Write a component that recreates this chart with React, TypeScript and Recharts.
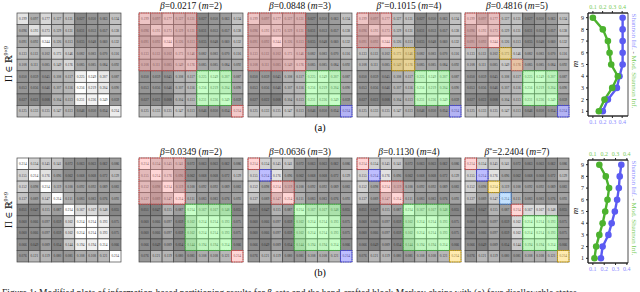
import React from 'react'
import { ScatterChart, Scatter, XAxis, YAxis, ReferenceArea, LineChart, Line } from 'recharts'

const SERIF = '"Liberation Serif", "DejaVu Serif", serif'

// transition matrices (rows x cols)
const PI_A = [
  [0.199, 0.097, 0.177, 0.127, 0.131, 0.027, 0.050, 0.063, 0.134],
  [0.096, 0.193, 0.173, 0.129, 0.131, 0.031, 0.053, 0.057, 0.138],
  [0.091, 0.092, 0.244, 0.126, 0.113, 0.035, 0.048, 0.060, 0.132],
  [0.133, 0.113, 0.102, 0.173, 0.146, 0.082, 0.083, 0.070, 0.116],
  [0.108, 0.111, 0.085, 0.149, 0.176, 0.085, 0.085, 0.084, 0.092],
  [0.050, 0.059, 0.045, 0.108, 0.117, 0.225, 0.249, 0.207, 0.087],
  [0.053, 0.056, 0.046, 0.107, 0.116, 0.256, 0.219, 0.204, 0.090],
  [0.027, 0.022, 0.008, 0.104, 0.113, 0.231, 0.226, 0.249, 0.059],
  [0.125, 0.133, 0.135, 0.147, 0.113, 0.046, 0.050, 0.054, 0.214],
]
const PI_B = [
  [0.214, 0.154, 0.145, 0.141, 0.072, 0.063, 0.063, 0.062, 0.086],
  [0.155, 0.214, 0.176, 0.096, 0.062, 0.068, 0.068, 0.072, 0.129],
  [0.152, 0.098, 0.214, 0.119, 0.100, 0.092, 0.092, 0.089, 0.083],
  [0.137, 0.089, 0.147, 0.214, 0.111, 0.083, 0.083, 0.076, 0.093],
  [0.051, 0.047, 0.115, 0.087, 0.214, 0.167, 0.167, 0.148, 0.055],
  [0.060, 0.066, 0.097, 0.059, 0.162, 0.214, 0.214, 0.193, 0.075],
  [0.060, 0.066, 0.097, 0.059, 0.162, 0.214, 0.214, 0.193, 0.075],
  [0.066, 0.049, 0.089, 0.054, 0.144, 0.194, 0.194, 0.214, 0.066],
  [0.076, 0.121, 0.119, 0.080, 0.081, 0.108, 0.108, 0.121, 0.214],
]

const BETAS_A = ['0.0217', '0.0848', '0.1015', '0.4816']
const M_A = [2, 3, 4, 5]
const STAR_A = [false, false, true, false]
const BETAS_B = ['0.0349', '0.0636', '0.1130', '2.2404']
const M_B = [2, 3, 4, 7]
const STAR_B = [false, false, false, true]

// partition blocks: [row0, col0, row1, col1, colour]
type Block = [number, number, number, number, string]
const BLOCKS_A: Block[][] = [
  [[0, 0, 4, 4, 'red'], [5, 5, 7, 7, 'green'], [8, 8, 8, 8, 'red']],
  [[0, 0, 4, 4, 'red'], [5, 5, 7, 7, 'green'], [8, 8, 8, 8, 'blue']],
  [[0, 0, 2, 2, 'red'], [3, 3, 4, 4, 'yellow'], [5, 5, 7, 7, 'green'], [8, 8, 8, 8, 'blue']],
  [[0, 0, 2, 2, 'red'], [3, 3, 3, 3, 'yellow'], [4, 4, 4, 4, 'orange'], [5, 5, 7, 7, 'green'], [8, 8, 8, 8, 'blue']],
]
const BLOCKS_B: Block[][] = [
  [[0, 0, 3, 3, 'red'], [4, 4, 7, 7, 'green'], [8, 8, 8, 8, 'red']],
  [[0, 0, 0, 0, 'red'], [1, 1, 1, 1, 'blue'], [2, 2, 3, 3, 'red'], [4, 4, 7, 7, 'green'], [8, 8, 8, 8, 'blue']],
  [[0, 0, 0, 0, 'red'], [1, 1, 1, 1, 'blue'], [2, 2, 3, 3, 'red'], [4, 4, 7, 7, 'green'], [8, 8, 8, 8, 'yellow']],
  [[0, 0, 0, 0, 'red'], [1, 1, 1, 1, 'blue'], [2, 2, 2, 2, 'yellow'], [3, 3, 3, 3, 'lightblue'], [4, 4, 4, 4, 'red'], [5, 5, 7, 7, 'green'], [8, 8, 8, 8, 'yellow']],
]

const M_VALUES = [1, 2, 3, 4, 5, 6, 7, 8, 9]
const SHANNON_A = [0.202, 0.254, 0.346, 0.373, 0.405, 0.405, 0.405, 0.405, 0.405]
const MOD_SHANNON_A = [0.161, 0.219, 0.298, 0.356, 0.288, 0.271, 0.254, 0.202, 0.1]
const SHANNON_B = [0.171, 0.186, 0.237, 0.266, 0.294, 0.314, 0.329, 0.337, 0.351]
const MOD_SHANNON_B = [0.114, 0.129, 0.157, 0.186, 0.209, 0.229, 0.243, 0.214, 0.157]
const X_TICKS = [0.1, 0.2, 0.3, 0.4]

const OVERLAY: Record<string, { fill: string; stroke: string; op: number }> = {
  red: { fill: '#ff9494', stroke: '#e04848', op: 0.38 },
  green: { fill: '#7dff7d', stroke: '#3cc43c', op: 0.42 },
  blue: { fill: '#6464ff', stroke: '#4040ee', op: 0.42 },
  yellow: { fill: '#ffd040', stroke: '#d8a800', op: 0.42 },
  orange: { fill: '#ffa860', stroke: '#e07070', op: 0.42 },
  lightblue: { fill: '#70b8ff', stroke: '#4080e0', op: 0.42 },
}

const LINE_BLUE = '#5b5bf2'
const LINE_GREEN = '#4cb22e'
const LABEL_BLUE = '#8c8cff'
const LABEL_GREEN = '#78cc58'

const SIZE = 104
const COL_X = [17, 139, 248, 357, 465]
const ROW_A_TOP = 13
const ROW_B_TOP = 158

function Heatmap({ values, blocks, left, top, lo, hi }: {
  values: number[][]; blocks: Block[]; left: number; top: number; lo: number; hi: number
}) {
  const cell = SIZE / 9
  const data = values.flatMap((row, r) => row.map((v, c) => ({ x: c + 0.5, y: r + 0.5, v })))
  const shade = (v: number) => {
    const t = Math.max(0, Math.min(1, (v - lo) / (hi - lo)))
    const g = Math.round(122 + t * 133)
    return `rgb(${g},${g},${g})`
  }
  return (
    <div style={{ position: 'absolute', left: left - 1, top: top - 1 }}>
      <ScatterChart width={SIZE + 2} height={SIZE + 2} margin={{ top: 1, right: 1, bottom: 1, left: 1 }}>
        <XAxis type="number" dataKey="x" domain={[0, 9]} hide />
        <YAxis type="number" dataKey="y" domain={[0, 9]} reversed hide />
        <Scatter
          data={data}
          isAnimationActive={false}
          shape={(p: any) => (
            <g>
              <rect x={p.cx - cell / 2} y={p.cy - cell / 2} width={cell} height={cell}
                fill={shade(p.payload.v)} stroke="#454545" strokeWidth={0.7} />
              <text x={p.cx} y={p.cy + 1.2} textAnchor="middle" fontSize={3.4} fill="#333" fontFamily={SERIF}>
                {p.payload.v.toFixed(3)}
              </text>
            </g>
          )}
        />
        {blocks.map(([r0, c0, r1, c1, col], i) => (
          <ReferenceArea key={i} x1={c0} x2={c1 + 1} y1={r0} y2={r1 + 1}
            fill={OVERLAY[col].fill} fillOpacity={OVERLAY[col].op} stroke={OVERLAY[col].stroke}
            strokeDasharray="1.2 1" strokeWidth={1} ifOverflow="visible" zIndex={1000} />
        ))}
      </ScatterChart>
    </div>
  )
}

function InfoChart({ top, shannon, modShannon, domain }: {
  top: number; shannon: number[]; modShannon: number[]; domain: [number, number]
}) {
  const data = M_VALUES.map((m, i) => ({ m, s: shannon[i], ms: modShannon[i] }))
  const tickFont = { fontSize: 6, fontFamily: SERIF }
  return (
    <div style={{ position: 'absolute', left: 560, top }}>
      <LineChart layout="vertical" width={80} height={131} data={data}
        margin={{ top: 3, right: 12, bottom: 5, left: 8 }}>
        <XAxis xAxisId="bottom" orientation="bottom" type="number" domain={domain} ticks={X_TICKS}
          allowDataOverflow height={10} interval={0} tickSize={2} stroke="#222"
          tick={{ ...tickFont, fill: LABEL_BLUE }} tickFormatter={(v: number) => v.toFixed(1)} />
        <XAxis xAxisId="top" orientation="top" type="number" domain={domain} ticks={X_TICKS}
          allowDataOverflow height={10} interval={0} tickSize={2} stroke="#222"
          tick={{ ...tickFont, fill: LABEL_GREEN }} tickFormatter={(v: number) => v.toFixed(1)} />
        <YAxis type="number" dataKey="m" domain={[0.6, 9.4]} ticks={M_VALUES} width={20} interval={0}
          reversed tickSize={2} stroke="#222" tick={{ ...tickFont, fill: '#222' }} allowDataOverflow />
        <ReferenceArea xAxisId="bottom" x1={domain[0]} x2={domain[1]} y1={0.6} y2={9.4}
          fill="none" stroke="#222" strokeWidth={0.8} ifOverflow="visible" />
        <Line xAxisId="bottom" dataKey="s" stroke={LINE_BLUE} strokeWidth={2.4} isAnimationActive={false}
          dot={{ r: 3.3, fill: LINE_BLUE, stroke: LINE_BLUE, strokeWidth: 0 }} />
        <Line xAxisId="top" dataKey="ms" stroke={LINE_GREEN} strokeWidth={2.4} isAnimationActive={false}
          dot={{ r: 3.3, fill: LINE_GREEN, stroke: LINE_GREEN, strokeWidth: 0 }} />
      </LineChart>
    </div>
  )
}

function Title({ x, y, beta, m, star }: { x: number; y: number; beta: string; m: number; star: boolean }) {
  return (
    <text x={x} y={y} textAnchor="middle" fontSize={9.5} fontFamily={SERIF} fill="#111">
      <tspan fontStyle="italic">β</tspan>
      {star ? <tspan fontSize={6} dy={-3}>*</tspan> : null}
      <tspan dy={star ? 3 : 0}>{`=${beta} (`}</tspan>
      <tspan fontStyle="italic">m</tspan>
      <tspan>{`=${m})`}</tspan>
    </text>
  )
}

function SideLabels({ cy }: { cy: number }) {
  return (
    <text transform={`translate(632,${cy}) rotate(90)`} textAnchor="middle" fontSize={7} fontFamily={SERIF}>
      <tspan fill={LABEL_BLUE}>Shannon Inf.</tspan>
      <tspan fill="#444">{' - '}</tspan>
      <tspan fill={LABEL_GREEN}>Mod. Shannon Inf.</tspan>
    </text>
  )
}

function PiLabel({ cy }: { cy: number }) {
  return (
    <text transform={`translate(12,${cy}) rotate(-90)`} textAnchor="middle" fontSize={9.5} fontFamily={SERIF} fill="#111">
      <tspan>Π ∈ ℝ</tspan>
      <tspan fontSize={6} dy={-4}>9×9</tspan>
    </text>
  )
}

export default function App() {
  return (
    <div style={{ position: 'fixed', left: 0, top: 0, width: 640, height: 292, background: '#fff', overflow: 'hidden' }}>
      <Heatmap values={PI_A} blocks={[]} left={COL_X[0]} top={ROW_A_TOP} lo={0} hi={0.25} />
      {BLOCKS_A.map((b, i) => (
        <Heatmap key={`a${i}`} values={PI_A} blocks={b} left={COL_X[i + 1]} top={ROW_A_TOP} lo={0} hi={0.25} />
      ))}
      <Heatmap values={PI_B} blocks={[]} left={COL_X[0]} top={ROW_B_TOP} lo={0.04} hi={0.214} />
      {BLOCKS_B.map((b, i) => (
        <Heatmap key={`b${i}`} values={PI_B} blocks={b} left={COL_X[i + 1]} top={ROW_B_TOP} lo={0.04} hi={0.214} />
      ))}
      <InfoChart top={0} shannon={SHANNON_A} modShannon={MOD_SHANNON_A} domain={[0.05, 0.46]} />
      <InfoChart top={147} shannon={SHANNON_B} modShannon={MOD_SHANNON_B} domain={[0.057, 0.41]} />
      <svg width={640} height={292} style={{ position: 'absolute', left: 0, top: 0, pointerEvents: 'none' }}>
        {BETAS_A.map((b, i) => (
          <Title key={`ta${i}`} x={COL_X[i + 1] + SIZE / 2} y={9} beta={b} m={M_A[i]} star={STAR_A[i]} />
        ))}
        {BETAS_B.map((b, i) => (
          <Title key={`tb${i}`} x={COL_X[i + 1] + SIZE / 2} y={155} beta={b} m={M_B[i]} star={STAR_B[i]} />
        ))}
        <PiLabel cy={64} />
        <PiLabel cy={210} />
        <SideLabels cy={61} />
        <SideLabels cy={208} />
        <text x={578} y={64} fontSize={9} fontStyle="italic" fontFamily={SERIF} transform="rotate(-90 578 64)" textAnchor="middle">m</text>
        <text x={578} y={211} fontSize={9} fontStyle="italic" fontFamily={SERIF} transform="rotate(-90 578 211)" textAnchor="middle">m</text>
        <text x={320} y={131} textAnchor="middle" fontSize={10} fontFamily={SERIF}>(a)</text>
        <text x={320} y={276} textAnchor="middle" fontSize={10} fontFamily={SERIF}>(b)</text>
        <text x={2} y={296} fontSize={9.5} fontFamily={SERIF} fill="#222">
          Figure 1: Modified plots of information-based partitioning results for β-sets and the hand-crafted block Markov chains with (a) four disallowable states
        </text>
      </svg>
    </div>
  )
}
